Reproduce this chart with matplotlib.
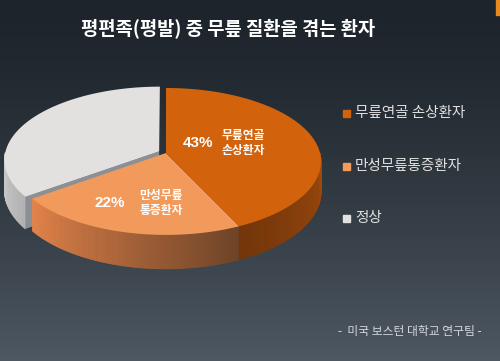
import numpy as np
import matplotlib
matplotlib.use("Agg")
import matplotlib.pyplot as plt
from matplotlib.patches import Polygon, Rectangle
from matplotlib.colors import to_rgb

plt.rcParams['font.family'] = ['Noto Sans CJK KR', 'DejaVu Sans']

# ---- data ----
title = "평편족(평발) 중 무릎 질환을 겪는 환자"
categories = ["무릎연골 손상환자", "만성무릎통증환자", "정상"]
values = [43, 22, 35]
inner_labels = ["무릎연골\n손상환자", "만성무릎\n통증환자", None]
source = "-  미국 보스턴 대학교 연구팀 -"

top_colors = ["#d2630c", "#f29a5c", "#e3e1df"]
side_from = ["#74360a", "#e4844a", "#d2d2d2"]
side_to = ["#a04a0c", "#6e4428", "#b4b4b4"]
explode = [0.0, 0.0, 0.05]

# ---- geometry of the tilted pie (pixels) ----
cx, cy = 166, 153
rx, ry = 154, 72.5
persp = 0.115
depth = 30


def proj(r, th, dz=0.0, off=(0.0, 0.0)):
    u = r * np.cos(th) + off[0]
    v = r * np.sin(th) + off[1]
    k = 1.0 / (1.0 + persp * v)
    return cx + rx * u * k, cy - ry * v * k + depth * k * dz


fig = plt.figure(figsize=(5.0, 3.61), dpi=100)
ax = fig.add_axes([0, 0, 1, 1])
ax.set_xlim(0, 500)
ax.set_ylim(361, 0)
ax.axis('off')

# background gradient
grad = np.linspace(0, 1, 256)[:, None]
c0 = np.array(to_rgb("#1d242b"))
c1 = np.array(to_rgb("#4e5862"))
bg = c0 + (c1 - c0) * grad[..., None] ** 1.4
ax.imshow(np.repeat(bg, 2, axis=1), extent=[0, 500, 361, 0], aspect='auto', zorder=0)
ax.add_patch(Rectangle((496, 0), 4, 15, color="#e88a1e", zorder=1))

# slice angles (clockwise from top)
fracs = np.array(values) / sum(values)
edges = np.deg2rad(90 - 360 * np.concatenate([[0], np.cumsum(fracs)]))
offs = []
for i in range(len(values)):
    mid = (edges[i] + edges[i + 1]) / 2
    offs.append((explode[i] * np.cos(mid), explode[i] * np.sin(mid)))


def side_wall(i, z):
    th = np.linspace(edges[i + 1], edges[i], 80)
    th = th[np.sin(th) < 0]
    if len(th) < 2:
        return
    ca, cb = np.array(to_rgb(side_from[i])), np.array(to_rgb(side_to[i]))
    for j in range(len(th) - 1):
        t = j / (len(th) - 2)
        col = ca + (cb - ca) * t
        pts = [proj(1, th[j], 0, offs[i]), proj(1, th[j + 1], 0, offs[i]),
               proj(1, th[j + 1], 1, offs[i]), proj(1, th[j], 1, offs[i])]
        ax.add_patch(Polygon(pts, closed=True, fc=col, ec=col, lw=0.6, zorder=z))


def top_face(i, z):
    th = np.linspace(edges[i], edges[i + 1], 120)
    pts = [proj(0, 0, 0, offs[i])] + [proj(1, t, 0, offs[i]) for t in th]
    ax.add_patch(Polygon(pts, closed=True, fc=top_colors[i], ec='none', zorder=z))


# gray (exploded) slice first: outer wall, cut face, top
side_wall(2, 2)
cut = edges[2]
face = [proj(0, 0, 0, offs[2]), proj(1, cut, 0, offs[2]),
        proj(1, cut, 1, offs[2]), proj(0, 0, 1, offs[2])]
ax.add_patch(Polygon(face, closed=True, fc="#8c9094", ec='none', zorder=2))
top_face(2, 3)

side_wall(1, 4)
side_wall(0, 4)
top_face(1, 5)
top_face(0, 5)

# labels on the slices
pct_font = ['Liberation Sans', 'DejaVu Sans']
ax.text(198, 143, f"{values[0]}%", color='white', fontsize=11, fontweight='bold',
        family=pct_font, ha='center', va='center', zorder=6)
ax.text(222, 143, inner_labels[0], color='white', fontsize=8.5, fontweight='bold',
        ha='left', va='center', linespacing=1.15, zorder=6)
ax.text(110, 203, f"{values[1]}%", color='white', fontsize=11, fontweight='bold',
        family=pct_font, ha='center', va='center', zorder=6)
ax.text(139, 203, inner_labels[1], color='white', fontsize=8.5, fontweight='bold',
        ha='left', va='center', linespacing=1.15, zorder=6)

# legend
for i, (name, yy) in enumerate(zip(categories, [113, 166, 218])):
    ax.add_patch(Rectangle((343, yy - 3.5), 7, 7, color=top_colors[i], zorder=6))
    ax.text(355, yy, name, color='#e0e0e0', fontsize=10.5, ha='left', va='center', zorder=6)

ax.text(228, 28, title, color='white', fontsize=13.5, fontweight='heavy',
        ha='center', va='center', zorder=6)
ax.text(410, 332, source, color='#d4d8dc', fontsize=8.5, ha='center', va='center', zorder=6)

fig.savefig("out.png", dpi=100)
